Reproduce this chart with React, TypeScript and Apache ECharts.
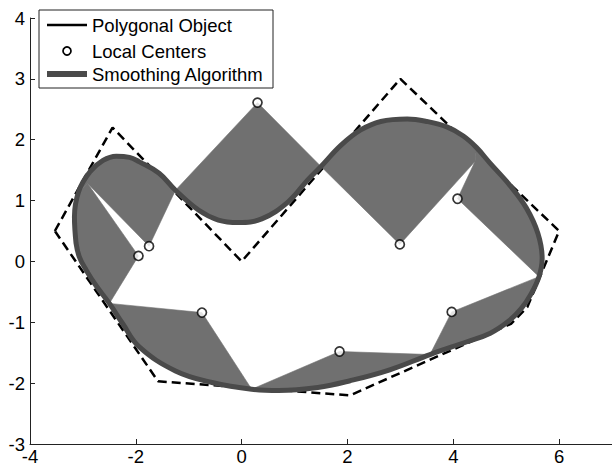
import React, { useEffect, useRef } from "react";
import * as echarts from "echarts";

// Dashed polygonal object (closed)
const polygonX = [-3.53, -2.44, 0, 3, 6, 5.4, 5.1, 2.05, -1.58, -3.53];
const polygonY = [0.5, 2.2, 0, 3, 0.5, -0.75, -1.02, -2.2, -1.97, 0.5];

// Local centers
const centersX = [-1.75, 0.3, 2.99, 4.08, 3.97, 1.85, -0.75, -1.95];
const centersY = [0.25, 2.61, 0.28, 1.03, -0.83, -1.48, -0.84, 0.09];

// Smoothing algorithm curve (closed, clockwise)
const curveX = [
  -3.13, -3.16, -3.08, -2.87, -2.62, -2.37, -2.12, -1.94, -1.56, -1.25,
  -0.81, -0.44, -0.06, 0.38, 0.88, 1.25, 1.5, 1.88, 2.25, 2.63,
  3.13, 3.5, 3.88, 4.19, 4.44, 4.69, 5.07, 5.38, 5.6, 5.68,
  5.62, 5.46, 5.28, 5.05, 4.7, 4.26, 3.56, 2.8, 2.05, 1.44,
  0.7, 0.19, -0.56, -1.25, -1.94, -2.25, -2.5, -2.75, -2.94, -3.07,
];
const curveY = [
  0.3, 0.73, 1.15, 1.47, 1.66, 1.73, 1.71, 1.64, 1.45, 1.17,
  0.84, 0.68, 0.64, 0.7, 0.98, 1.34, 1.56, 1.91, 2.16, 2.3,
  2.34, 2.3, 2.21, 2.06, 1.87, 1.62, 1.25, 0.88, 0.46, 0.05,
  -0.25, -0.55, -0.78, -0.98, -1.18, -1.32, -1.53, -1.78, -1.96, -2.07,
  -2.12, -2.1, -1.99, -1.8, -1.4, -1.02, -0.69, -0.4, -0.14, 0.08,
];

// Shaded fans: arc of the curve (index range) seen from each local center
const fanArcStart = [2, 9, 16, 24, 30, 36, 41, 46];
const fanArcEnd = [9, 16, 24, 30, 36, 41, 46, 52];
// Wedge tips where neighbouring fans meet inside the curve
const tipLeft: [number, number] = [-2.91, 1.28];
const tipRight: [number, number] = [4.41, 1.64];

const xTicks = { min: -4, max: 7, interval: 2 };
const yTicks = { min: -3, max: 4, interval: 1 };

const legendLabels = ["Polygonal Object", "Local Centers", "Smoothing Algorithm"];

const FONT = "'Liberation Sans', Arial, Helvetica, sans-serif";
const FILL = "#707070";
const CURVE = "#4a4a4a";

function buildFans(): [number, number][][] {
  const n = curveX.length;
  const fans: [number, number][][] = [];
  for (let i = 0; i < fanArcStart.length; i++) {
    const pts: [number, number][] = [[centersX[i], centersY[i]]];
    if (i === 0) pts.push(tipLeft);
    if (i === 3) pts.push(tipRight);
    for (let k = fanArcStart[i]; k <= fanArcEnd[i]; k++) {
      const j = k % n;
      pts.push([curveX[j], curveY[j]]);
    }
    if (i === 2) pts.push(tipRight);
    if (i === 7) pts.push(tipLeft);
    fans.push(pts);
  }
  return fans;
}

export default function App() {
  const ref = useRef<HTMLDivElement>(null);
  useEffect(() => {
    if (!ref.current) return;
    const chart = echarts.init(ref.current, undefined, { renderer: "svg" });
    const fans = buildFans();
    const polygonData = polygonX.map((x, i) => [x, polygonY[i]]);
    const curveData = curveX.map((x, i) => [x, curveY[i]]);
    curveData.push([curveX[0], curveY[0]]);
    const centerData = centersX.map((x, i) => [x, centersY[i]]);

    const axisCommon = {
      type: "value" as const,
      axisLine: { show: true, onZero: false, lineStyle: { color: "#222", width: 1 } },
      axisTick: { show: true, inside: true, length: 5, lineStyle: { color: "#222" } },
      splitLine: { show: false },
    };

    chart.setOption({
      animation: false,
      backgroundColor: "#fff",
      grid: { left: 30, right: -4, top: 18, bottom: 24, containLabel: false },
      xAxis: {
        ...axisCommon,
        min: xTicks.min,
        max: xTicks.max,
        interval: xTicks.interval,
        axisLabel: {
          color: "#000",
          fontSize: 18.5,
          fontFamily: FONT,
          margin: 3,
          showMaxLabel: false,
        },
      },
      yAxis: {
        ...axisCommon,
        min: yTicks.min,
        max: yTicks.max,
        interval: yTicks.interval,
        axisLabel: { color: "#000", fontSize: 18.5, fontFamily: FONT, margin: 5 },
      },
      series: [
        {
          type: "line",
          name: legendLabels[0],
          data: polygonData,
          showSymbol: false,
          symbol: "none",
          lineStyle: { color: "#000", width: 2.5, type: [9, 5] },
          z: 1,
        },
        {
          type: "custom",
          name: "fans",
          data: fans.map((f) => f[0]),
          renderItem: (params: any, api: any) => {
            const poly = fans[params.dataIndex];
            const points = poly.map((p) => api.coord(p));
            return {
              type: "polygon",
              shape: { points },
              style: { fill: FILL, stroke: FILL, lineWidth: 0.6 },
            };
          },
          z: 2,
        },
        {
          type: "line",
          name: legendLabels[2],
          data: curveData,
          showSymbol: false,
          symbol: "none",
          smooth: 0.4,
          lineStyle: { color: CURVE, width: 5 },
          z: 3,
        },
        {
          type: "scatter",
          name: legendLabels[1],
          data: centerData,
          symbol: "circle",
          symbolSize: 9,
          itemStyle: { color: "#fff", borderColor: "#000", borderWidth: 1.7 },
          z: 4,
        },
      ],
      graphic: [
        {
          type: "group",
          z: 100,
          children: [
            {
              type: "rect",
              shape: { x: 39, y: 10, width: 234, height: 78 },
              style: { fill: "#fff", stroke: "#222", lineWidth: 1 },
            },
            {
              type: "line",
              shape: { x1: 47, y1: 25, x2: 87, y2: 25 },
              style: { stroke: "#000", lineWidth: 2.5 },
            },
            {
              type: "circle",
              shape: { cx: 67, cy: 51, r: 4 },
              style: { fill: "#fff", stroke: "#000", lineWidth: 1.7 },
            },
            {
              type: "line",
              shape: { x1: 47, y1: 74, x2: 87, y2: 74 },
              style: { stroke: CURVE, lineWidth: 6 },
            },
            ...legendLabels.map((t, i) => ({
              type: "text",
              x: 92,
              y: [25, 51, 74][i],
              style: {
                text: t,
                fill: "#000",
                font: `18.5px ${FONT}`,
                textVerticalAlign: "middle",
                verticalAlign: "middle",
              },
            })),
          ],
        },
      ],
    });
    return () => chart.dispose();
  }, []);
  return (
    <div
      ref={ref}
      style={{ position: "absolute", left: 0, top: 0, width: 612, height: 468 }}
    />
  );
}
